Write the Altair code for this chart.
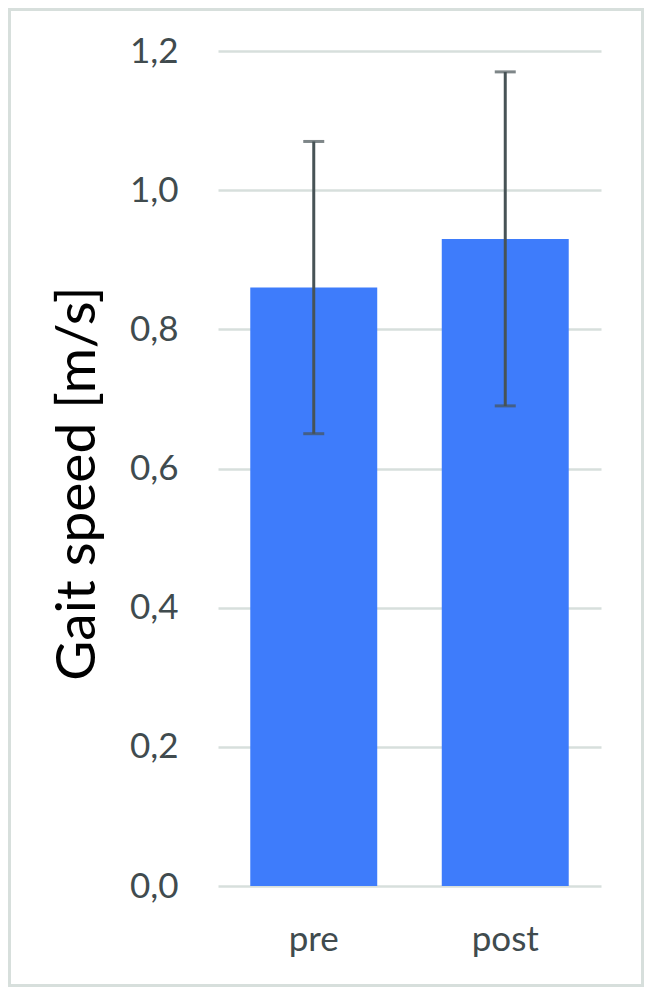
import altair as alt
import pandas as pd

phases = ["pre", "post"]
means = [0.86, 0.93]
sds = [0.21, 0.24]

df = pd.DataFrame({
    "phase": phases,
    "mean": means,
    "lo": [m - s for m, s in zip(means, sds)],
    "hi": [m + s for m, s in zip(means, sds)],
})

W, H = 383, 835
FONT = "Lato"
TXT = "#404b4e"
GRID = "#d7dfdc"

x = alt.X("phase:N", sort=phases, title=None,
          scale=alt.Scale(paddingInner=0.337, paddingOuter=0.1685),
          axis=alt.Axis(labelAngle=0, labelFontSize=35, labelColor=TXT, labelFont=FONT,
                        labelBaseline="alphabetic", labelPadding=64,
                        ticks=False, tickSize=0, domain=False))

y = alt.Y("mean:Q", title="Gait speed [m/s]",
          scale=alt.Scale(domain=[0, 1.2], nice=False),
          axis=alt.Axis(values=[0, 0.2, 0.4, 0.6, 0.8, 1.0, 1.2],
                        labelExpr="replace(format(datum.value, '.1f'), '.', ',')",
                        labelFontSize=35, labelColor=TXT, labelFont=FONT,
                        labelPadding=40, ticks=False, tickSize=0, domain=False,
                        grid=True, gridColor=GRID, gridWidth=2.5,
                        titleFont=FONT, titleFontSize=55, titleFontWeight="normal",
                        titleColor="#000000", titleX=-124, titleY=432,
                        titleAlign="center", titleBaseline="alphabetic", titleAngle=270))

base = alt.Chart(df)

bars = base.mark_bar(color="#3e7cfb").encode(x=x, y=y)

rules = base.mark_rule(color="#475356", strokeWidth=3).encode(
    x=alt.X("phase:N", sort=phases), y="lo:Q", y2="hi:Q")
caps_hi = base.mark_tick(color="#475356", size=21, thickness=3).encode(
    x=alt.X("phase:N", sort=phases), y="hi:Q")
caps_lo = base.mark_tick(color="#475356", size=21, thickness=3).encode(
    x=alt.X("phase:N", sort=phases), y="lo:Q")

frame = alt.Chart(pd.DataFrame({"a": [0]})).mark_rect(
    fill=None, stroke=GRID, strokeWidth=3, clip=False).encode(
    x=alt.value(-208.5), x2=alt.value(W + 41.5),
    y=alt.value(-41.5), y2=alt.value(H + 99.5))

chart = alt.layer(bars, rules, caps_hi, caps_lo, frame).properties(
    width=W, height=H,
    background="white",
    autosize=alt.AutoSizeParams(type="none"),
    padding={"left": 210, "top": 43, "right": 43, "bottom": 101},
).configure_view(stroke=None, strokeWidth=0)

chart.save("out.html", embed_options={"renderer": "svg", "actions": False})
